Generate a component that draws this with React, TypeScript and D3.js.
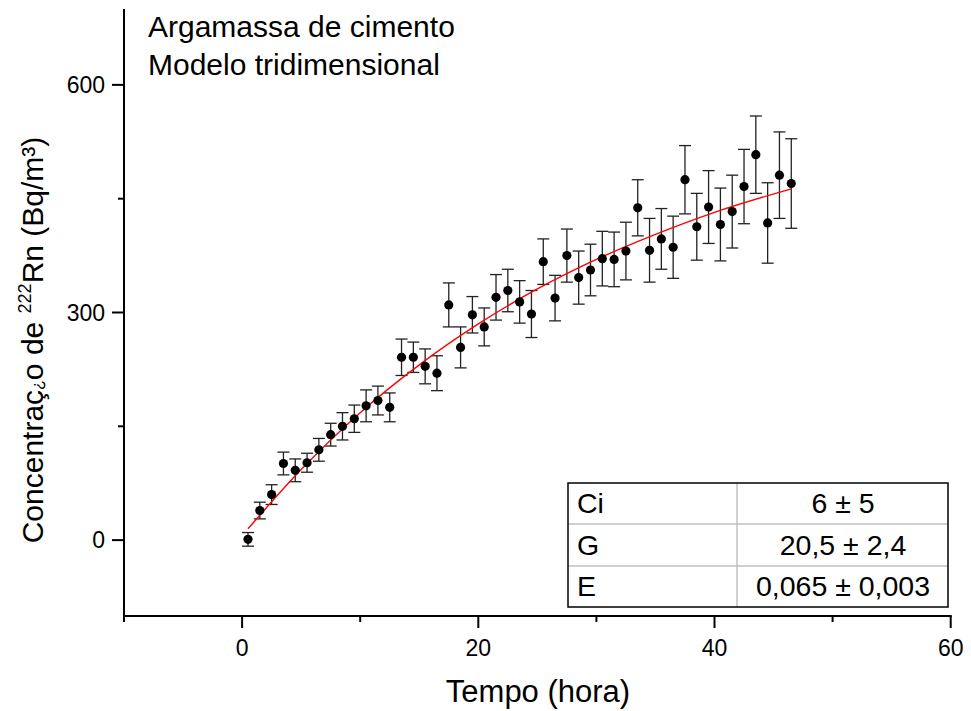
import React from "react";
import * as d3 from "d3";

// measured points (hours, Bq/m3) with their error bars
const tempo = [
  0.5, 1.5, 2.5, 3.5, 4.5, 5.5, 6.5, 7.5, 8.5, 9.5, 10.5, 11.5, 12.5, 13.5, 14.5, 15.5,
  16.5, 17.5, 18.5, 19.5, 20.5, 21.5, 22.5, 23.5, 24.5, 25.5, 26.5, 27.5, 28.5, 29.5,
  30.5, 31.5, 32.5, 33.5, 34.5, 35.5, 36.5, 37.5, 38.5, 39.5, 40.5, 41.5, 42.5, 43.5,
  44.5, 45.5, 46.5,
];
const concentracao = [
  1, 39, 60, 101, 92, 102, 119, 139, 150, 160, 177, 184, 175, 241, 241, 229,
  220, 310, 254, 297, 281, 320, 329, 314, 298, 367, 319, 375, 346, 356,
  371, 370, 381, 438, 382, 397, 386, 475, 413, 439, 416, 433, 466, 508,
  418, 481, 470,
];
const erro = [
  9, 11, 13, 15, 15, 12.5, 15, 15, 18, 18, 21, 19, 19, 24, 20, 23,
  23, 29, 27, 24, 25, 30, 28, 28, 31, 30, 30, 35, 35, 34,
  36, 36, 38, 37, 42, 40, 41, 45, 44, 48, 48, 48, 49, 51,
  53, 57, 59,
];

// fitted curve
const ajusteTempo = [0.5, 5, 10, 15, 20, 25, 30, 35, 40, 46.5];
const ajusteValor = [15, 93, 168, 231, 285, 331, 370, 403, 432, 463];

const xTicks = [0, 20, 40, 60];
const xMinor = [-10, 10, 30, 50];
const yTicks = [0, 300, 600];
const yMinor = [150, 450];

const tabelaNomes = ["Ci", "G", "E"];
const tabelaValores = ["6 ± 5", "20,5 ± 2,4", "0,065 ± 0,003"];

const FONT = "'Liberation Sans', Arial, sans-serif";

export default function App() {
  const width = 971;
  const height = 711;

  const x = d3.scaleLinear().domain([-10, 60]).range([124, 950.7]);
  const y = d3.scaleLinear().domain([-100, 700]).range([616, 9]);

  const pts = tempo.map((t, i) => ({ t, v: concentracao[i], e: erro[i] }));
  const fit = ajusteTempo.map((t, i) => ({ t, v: ajusteValor[i] }));

  const fitLine = d3
    .line<{ t: number; v: number }>()
    .x((d) => x(d.t))
    .y((d) => y(d.v))
    .curve(d3.curveMonotoneX);

  // table geometry
  const tx0 = 568, tx1 = 948, tcol = 737;
  const rowLines = [483, 524, 566, 607];

  return (
    <svg
      width={width}
      height={height}
      style={{ position: "absolute", left: 0, top: 0, background: "#fff" }}
      fontFamily={FONT}
    >
      {/* axes */}
      <line x1={124} x2={124} y1={9} y2={617} stroke="#000" strokeWidth={2} />
      <line x1={123} x2={951.7} y1={616} y2={616} stroke="#000" strokeWidth={2} />
      {xTicks.map((t) => (
        <g key={"xt" + t}>
          <line x1={x(t)} x2={x(t)} y1={616} y2={628} stroke="#000" strokeWidth={2} />
          <text x={x(t)} y={656} fontSize={23} textAnchor="middle">{t}</text>
        </g>
      ))}
      {xMinor.map((t) => (
        <line key={"xm" + t} x1={x(t)} x2={x(t)} y1={616} y2={622} stroke="#000" strokeWidth={2} />
      ))}
      {yTicks.map((t) => (
        <g key={"yt" + t}>
          <line x1={112} x2={124} y1={y(t)} y2={y(t)} stroke="#000" strokeWidth={2} />
          <text x={105} y={y(t) + 8} fontSize={23} textAnchor="end">{t}</text>
        </g>
      ))}
      {yMinor.map((t) => (
        <line key={"ym" + t} x1={118} x2={124} y1={y(t)} y2={y(t)} stroke="#000" strokeWidth={2} />
      ))}

      {/* axis titles */}
      <text x={538} y={702} fontSize={31} textAnchor="middle">Tempo (hora)</text>
      <text
        transform="translate(43,340) rotate(-90)"
        fontSize={30}
        textAnchor="middle"
      >
        Concentraç<tspan fontSize={16}>¿</tspan>o de <tspan fontSize={18} dy={-12}>222</tspan>
        <tspan dy={12}>Rn (Bq/m³)</tspan>
      </text>

      {/* annotations */}
      <text x={148} y={37} fontSize={30}>Argamassa de cimento</text>
      <text x={148} y={75} fontSize={30}>Modelo tridimensional</text>

      {/* error bars */}
      {pts.map((d, i) => (
        <g key={"e" + i} stroke="#222" strokeWidth={1.3}>
          <line x1={x(d.t)} x2={x(d.t)} y1={y(d.v - d.e)} y2={y(d.v + d.e)} />
          <line x1={x(d.t) - 6} x2={x(d.t) + 6} y1={y(d.v - d.e)} y2={y(d.v - d.e)} />
          <line x1={x(d.t) - 6} x2={x(d.t) + 6} y1={y(d.v + d.e)} y2={y(d.v + d.e)} />
        </g>
      ))}

      {/* fit */}
      <path d={fitLine(fit) ?? ""} fill="none" stroke="#ff0000" strokeWidth={1.4} />

      {/* points */}
      {pts.map((d, i) => (
        <circle key={"p" + i} cx={x(d.t)} cy={y(d.v)} r={4.6} fill="#000" />
      ))}

      {/* parameter table */}
      <rect x={tx0} y={rowLines[0]} width={tx1 - tx0} height={rowLines[3] - rowLines[0]} fill="#fff" stroke="none" />
      {rowLines.slice(1, 3).map((ry) => (
        <line key={"r" + ry} x1={tx0} x2={tx1} y1={ry} y2={ry} stroke="#c0c0c0" strokeWidth={1.5} />
      ))}
      <line x1={tcol} x2={tcol} y1={rowLines[0]} y2={rowLines[3]} stroke="#c0c0c0" strokeWidth={1.5} />
      <rect x={tx0} y={rowLines[0]} width={tx1 - tx0} height={rowLines[3] - rowLines[0]} fill="none" stroke="#000" strokeWidth={1.5} />
      {tabelaNomes.map((n, i) => {
        const cy = (rowLines[i] + rowLines[i + 1]) / 2;
        return (
          <g key={"t" + n} fontSize={28.5}>
            <text x={577} y={cy + 9.5}>{n}</text>
            <text x={843} y={cy + 9.5} textAnchor="middle">{tabelaValores[i]}</text>
          </g>
        );
      })}
    </svg>
  );
}
